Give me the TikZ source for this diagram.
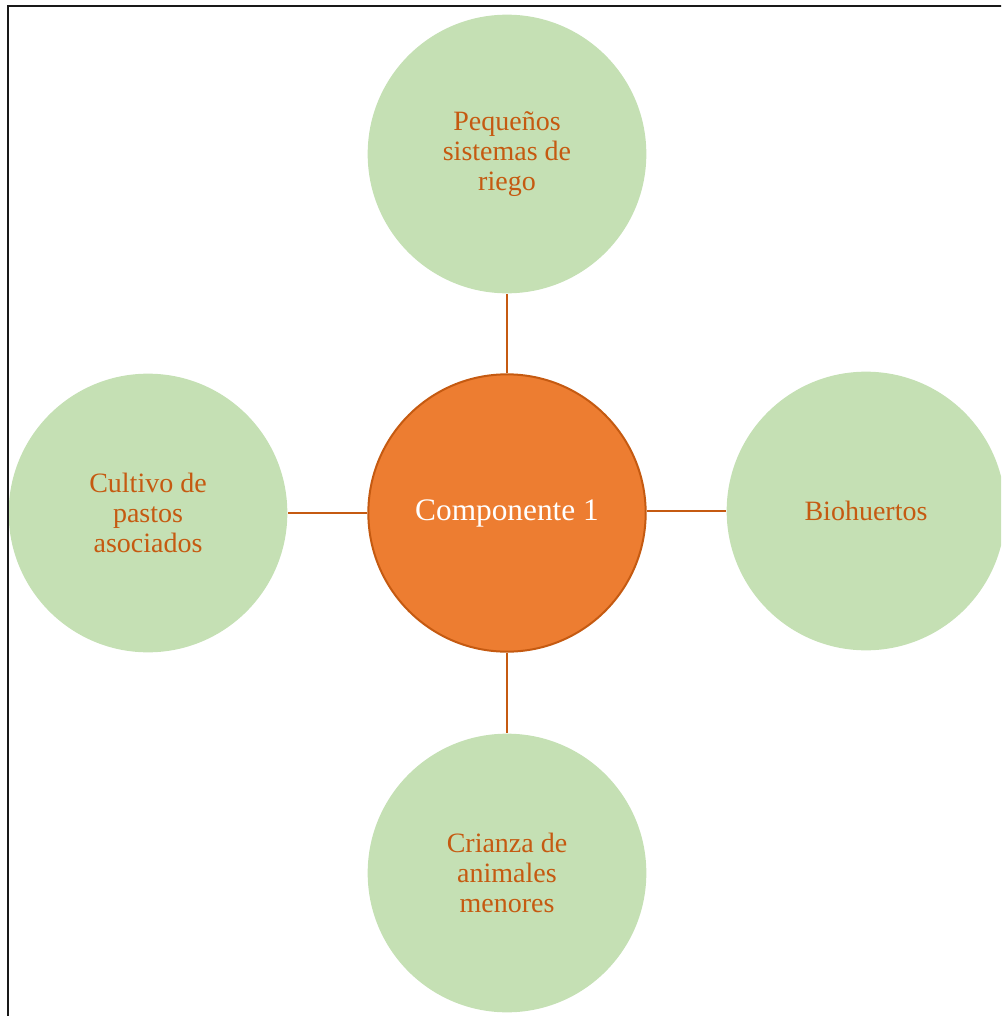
\documentclass[tikz,border=0pt]{standalone}
\usepackage{fontspec}
\setmainfont{Liberation Serif}
\definecolor{leafgreen}{HTML}{C5E0B4}
\definecolor{hubfill}{HTML}{ED7D31}
\definecolor{rust}{HTML}{C55A11}
\tikzset{
  hub/.style={circle, draw=rust, line width=1.5pt, fill=hubfill, text=white,
    minimum size=208pt, inner sep=0pt, font=\fontsize{23.5}{26}\selectfont},
  leaf/.style={circle, fill=leafgreen, text=rust, minimum size=209pt, inner sep=0pt,
    align=center, font=\fontsize{21}{22.5}\selectfont},
  spoke/.style={draw=rust, line width=1.5pt}
}
\begin{document}
\begin{tikzpicture}[x=0.75pt, y=-0.75pt]
\useasboundingbox (0,0) rectangle (1001,1016);
\clip (0,0) rectangle (1001,1016);
%%%%%%%%%%%%%%%%%%%%%%%%%%%%%%% circles
\node[leaf](riego) at (507,154){Peque\~nos\\sistemas de\\riego};
\node[leaf](pastos) at (148,513){Cultivo de\\pastos\\asociados};
\node[leaf](huertos) at (866,511){Biohuertos};
\node[leaf](crianza) at (507,873){Crianza de\\animales\\menores};
\node[hub](comp) at (507,513){Componente 1};
\draw[spoke] (comp.north) -- (riego.south);
\draw[spoke] (comp.west) -- (pastos.east);
\draw[spoke] (huertos.west -| comp.east) -- (huertos.west);
\draw[spoke] (comp.south) -- (crianza.north);
%%%%%%%%%%%%%%%%%%%%%%%%%%%%%%% frame
\draw[line width=1.5pt, black!90] (8,1020) -- (8,6) -- (1005,6);
\end{tikzpicture}
\end{document}
